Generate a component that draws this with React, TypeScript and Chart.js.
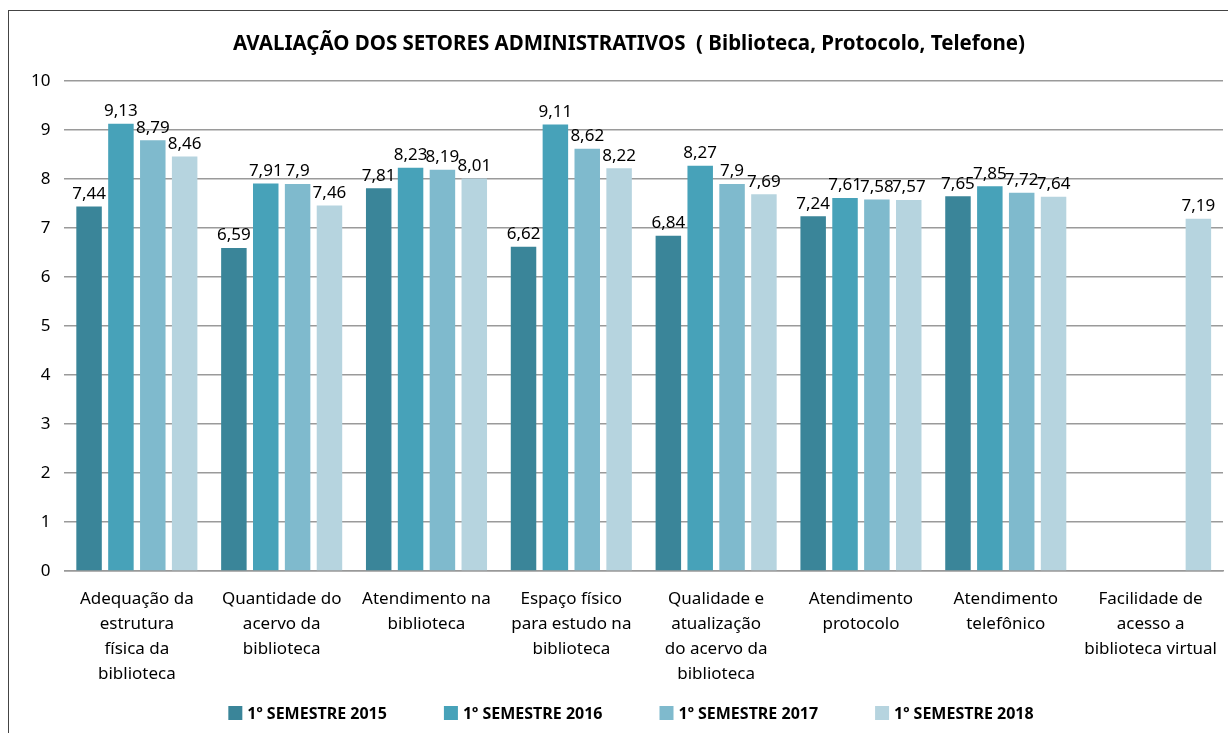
import React, { useEffect, useRef } from "react";
import { Chart, registerables } from "chart.js";

Chart.register(...registerables);

const categories: string[][] = [
  ["Adequação da", "estrutura", "física da", "biblioteca"],
  ["Quantidade do", "acervo da", "biblioteca"],
  ["Atendimento na", "biblioteca"],
  ["Espaço físico", "para estudo na", "biblioteca"],
  ["Qualidade e", "atualização", "do acervo da", "biblioteca"],
  ["Atendimento", "protocolo"],
  ["Atendimento", "telefônico"],
  ["Facilidade de", "acesso a", "biblioteca virtual"],
];

const seriesNames = ["1º SEMESTRE 2015", "1º SEMESTRE 2016", "1º SEMESTRE 2017", "1º SEMESTRE 2018"];

const sem2015: (number | null)[] = [7.44, 6.59, 7.81, 6.62, 6.84, 7.24, 7.65, null];
const sem2016: (number | null)[] = [9.13, 7.91, 8.23, 9.11, 8.27, 7.61, 7.85, null];
const sem2017: (number | null)[] = [8.79, 7.9, 8.19, 8.62, 7.9, 7.58, 7.72, null];
const sem2018: (number | null)[] = [8.46, 7.46, 8.01, 8.22, 7.69, 7.57, 7.64, 7.19];

const titleText = "AVALIAÇÃO DOS SETORES ADMINISTRATIVOS  ( Biblioteca, Protocolo, Telefone)";

const colors = ["#3a8599", "#47a2b9", "#7fbacd", "#b6d4df"];

const FONT = "'Noto Sans', sans-serif";
const CENTER_X = 620;

const valueLabels = {
  id: "valueLabels",
  afterDatasetsDraw(chart: any) {
    const ctx = chart.ctx;
    ctx.save();
    ctx.font = `17px ${FONT}`;
    ctx.fillStyle = "#000";
    ctx.textAlign = "center";
    ctx.textBaseline = "bottom";
    chart.data.datasets.forEach((ds: any, i: number) => {
      const meta = chart.getDatasetMeta(i);
      meta.data.forEach((bar: any, j: number) => {
        const v = ds.data[j];
        if (v === null || v === undefined) return;
        ctx.fillText(String(v).replace(".", ","), bar.x, bar.y - 4);
      });
    });
    ctx.restore();
  },
};

const titleAndLegend = {
  id: "titleAndLegend",
  afterDraw(chart: any) {
    const ctx = chart.ctx;
    ctx.save();
    ctx.fillStyle = "#000";
    ctx.textAlign = "center";
    ctx.textBaseline = "middle";
    ctx.font = `bold 20.5px ${FONT}`;
    ctx.fillText(titleText, CENTER_X, 33);

    ctx.font = `bold 16px ${FONT}`;
    const box = 14;
    const gap = 5;
    const itemGap = 57;
    const widths = seriesNames.map((n) => box + gap + ctx.measureText(n).width);
    const total = widths.reduce((a, b) => a + b, 0) + itemGap * (widths.length - 1);
    let x = CENTER_X + 2 - total / 2;
    const y = 702;
    ctx.textAlign = "left";
    seriesNames.forEach((n, i) => {
      ctx.fillStyle = colors[i];
      ctx.fillRect(x, y - box / 2, box, box);
      ctx.fillStyle = "#000";
      ctx.fillText(n, x + box + gap, y + 1);
      x += widths[i] + itemGap;
    });
    ctx.restore();
  },
};

export default function App() {
  const ref = useRef<HTMLCanvasElement>(null);
  useEffect(() => {
    if (!ref.current) return;
    const data = [sem2015, sem2016, sem2017, sem2018];
    const chart = new Chart(ref.current, {
      type: "bar",
      data: {
        labels: categories,
        datasets: data.map((d, i) => ({
          label: seriesNames[i],
          data: d,
          backgroundColor: colors[i],
          categoryPercentage: 0.88,
          barPercentage: 0.8,
        })),
      },
      options: {
        animation: false,
        responsive: false,
        maintainAspectRatio: false,
        layout: { padding: { left: 8, right: 24, top: 70, bottom: 38 } },
        plugins: {
          title: { display: false },
          legend: { display: false },
          tooltip: { enabled: false },
        },
        scales: {
          x: {
            grid: { display: false },
            border: { color: "#999", width: 1.5 },
            ticks: {
              color: "#000",
              font: { family: FONT, size: 17, lineHeight: 1.47 },
              maxRotation: 0,
              autoSkip: false,
              padding: 8,
            },
          },
          y: {
            min: 0,
            max: 10,
            ticks: {
              stepSize: 1,
              color: "#000",
              font: { family: FONT, size: 17 },
              padding: 14,
            },
            grid: { color: "#9a9a9a", lineWidth: 1.5, drawTicks: false },
            border: { display: false },
          },
        },
      },
      plugins: [valueLabels, titleAndLegend],
    });
    return () => chart.destroy();
  }, []);
  return (
    <div
      style={{
        position: "fixed",
        left: 8,
        top: 10,
        width: 1240,
        height: 740,
        border: "1px solid #444",
        background: "#fff",
        boxSizing: "border-box",
      }}
    >
      <canvas ref={ref} width={1238} height={722} style={{ display: "block" }} />
    </div>
  );
}
